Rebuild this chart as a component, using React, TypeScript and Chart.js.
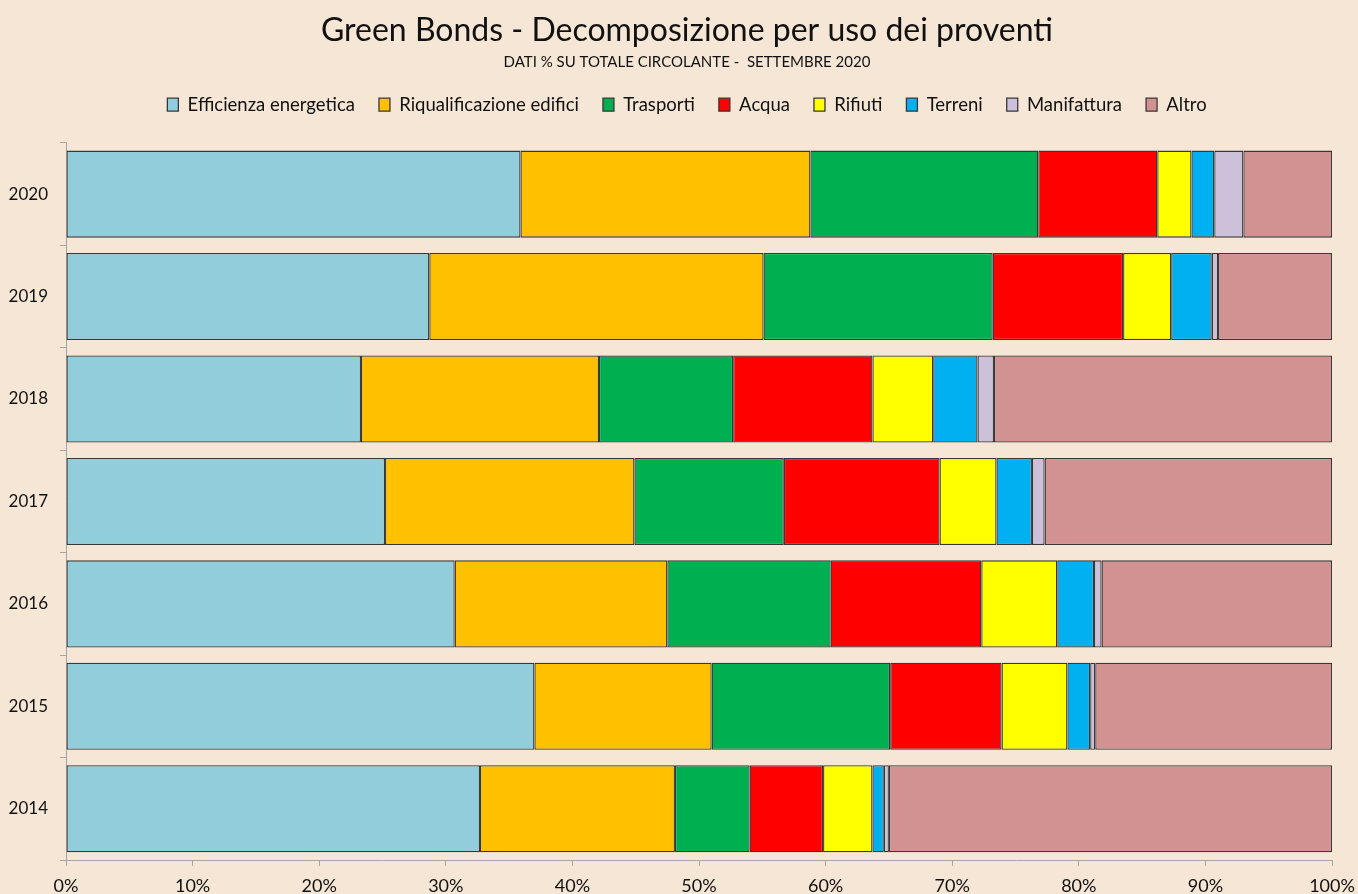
import React, { useEffect, useRef } from "react";
import { Chart, registerables } from "chart.js";

Chart.register(...registerables);

const years = ["2020", "2019", "2018", "2017", "2016", "2015", "2014"];
const seriesNames = [
  "Efficienza energetica",
  "Riqualificazione edifici",
  "Trasporti",
  "Acqua",
  "Rifiuti",
  "Terreni",
  "Manifattura",
  "Altro",
];
const efficienza = [35.9, 28.7, 23.3, 25.2, 30.7, 37.0, 32.7];
const riqualificazione = [22.9, 26.4, 18.8, 19.7, 16.8, 14.0, 15.4];
const trasporti = [18.0, 18.1, 10.6, 11.8, 12.9, 14.1, 5.9];
const acqua = [9.4, 10.3, 11.0, 12.3, 11.9, 8.8, 5.8];
const rifiuti = [2.7, 3.8, 4.8, 4.5, 6.0, 5.2, 3.9];
const terreni = [1.8, 3.2, 3.5, 2.8, 2.9, 1.8, 0.9];
const manifattura = [2.3, 0.5, 1.3, 1.0, 0.6, 0.4, 0.4];
const altro = [7.0, 9.0, 26.7, 22.7, 18.2, 18.7, 35.0];
const xTicks = [0, 10, 20, 30, 40, 50, 60, 70, 80, 90, 100];

const colors = ["#92CDDC", "#FFC000", "#00B050", "#FF0000", "#FFFF00", "#00B0F0", "#CCC0DA", "#D39292"];
const BG = "#F5E6D6";
const FONT = "Lato, 'Open Sans', sans-serif";

export default function App() {
  const ref = useRef<HTMLCanvasElement>(null);
  useEffect(() => {
    const values = [efficienza, riqualificazione, trasporti, acqua, rifiuti, terreni, manifattura, altro];
    const bgPlugin = {
      id: "bg",
      beforeDraw(chart: any) {
        const { ctx, width, height } = chart;
        ctx.save();
        ctx.fillStyle = BG;
        ctx.fillRect(0, 0, width, height);
        ctx.restore();
      },
    };
    const legendSpacer = {
      id: "legendSpacer",
      afterInit(chart: any) {
        const lg = chart.legend;
        if (!lg) return;
        const orig = lg.fit;
        lg.fit = function () {
          orig.call(this);
          this.height += 19;
        };
      },
      afterLayout(chart: any) {
        (chart.boxes || []).forEach((b: any) => {
          if (b.position === "top" && !b.axis) {
            b.left += 21;
            b.right += 21;
          }
        });
      },
    };
    const chart = new Chart(ref.current as HTMLCanvasElement, {
      type: "bar",
      data: {
        labels: years,
        datasets: seriesNames.map((name, i) => ({
          label: name,
          data: values[i],
          backgroundColor: colors[i],
          borderColor: "#383838",
          borderWidth: 1.3,
          borderSkipped: false,
          barPercentage: 0.85,
          categoryPercentage: 1,
        })),
      },
      options: {
        indexAxis: "y",
        animation: false,
        responsive: false,
        maintainAspectRatio: false,
        layout: { padding: { left: 0, right: 26, top: 0, bottom: 0 } },
        plugins: {
          title: {
            display: true,
            text: "Green Bonds - Decomposizione per uso dei proventi",
            color: "#111111",
            font: { family: FONT, size: 32, weight: "normal" },
            padding: { top: 11, bottom: 4 },
          },
          subtitle: {
            display: true,
            text: "DATI % SU TOTALE CIRCOLANTE -  SETTEMBRE 2020",
            color: "#111111",
            font: { family: FONT, size: 15, weight: "normal" },
            padding: { top: 0, bottom: 0 },
          },
          legend: {
            position: "top",
            labels: {
              boxWidth: 11,
              boxHeight: 13,
              color: "#111111",
              font: { family: FONT, size: 18.5 },
              padding: 24,
            },
          },
          tooltip: { enabled: false },
        },
        scales: {
          x: {
            stacked: true,
            min: 0,
            max: 100,
            afterBuildTicks: (s: any) => {
              s.ticks = xTicks.map((v) => ({ value: v }));
            },
            afterFit: (s: any) => {
              s.height = 34;
              s.paddingRight = 0;
              s.paddingLeft = 0;
            },
            ticks: {
              callback: (v: any) => v + "%",
              color: "#111111",
              font: { family: FONT, size: 18 },
              padding: 9,
              maxRotation: 0,
            },
            grid: { drawOnChartArea: false, drawTicks: true, tickLength: 6, color: "#A6A6A6" },
            border: { color: "#A6A6A6", width: 1 },
          },
          y: {
            stacked: true,
            afterFit: (s: any) => {
              s.width = 66;
            },
            ticks: {
              color: "#111111",
              font: { family: FONT, size: 17 },
              padding: 12,
            },
            grid: { drawOnChartArea: false, drawTicks: true, tickLength: 6, color: "#A6A6A6", offset: true },
            border: { color: "#A6A6A6", width: 1 },
          },
        },
      },
      plugins: [bgPlugin, legendSpacer],
    } as any);
    return () => chart.destroy();
  }, []);
  return (
    <div style={{ position: "fixed", left: 0, top: 0, width: 1358, height: 894, background: BG }}>
      <canvas ref={ref} width={1358} height={894} style={{ display: "block" }} />
    </div>
  );
}
